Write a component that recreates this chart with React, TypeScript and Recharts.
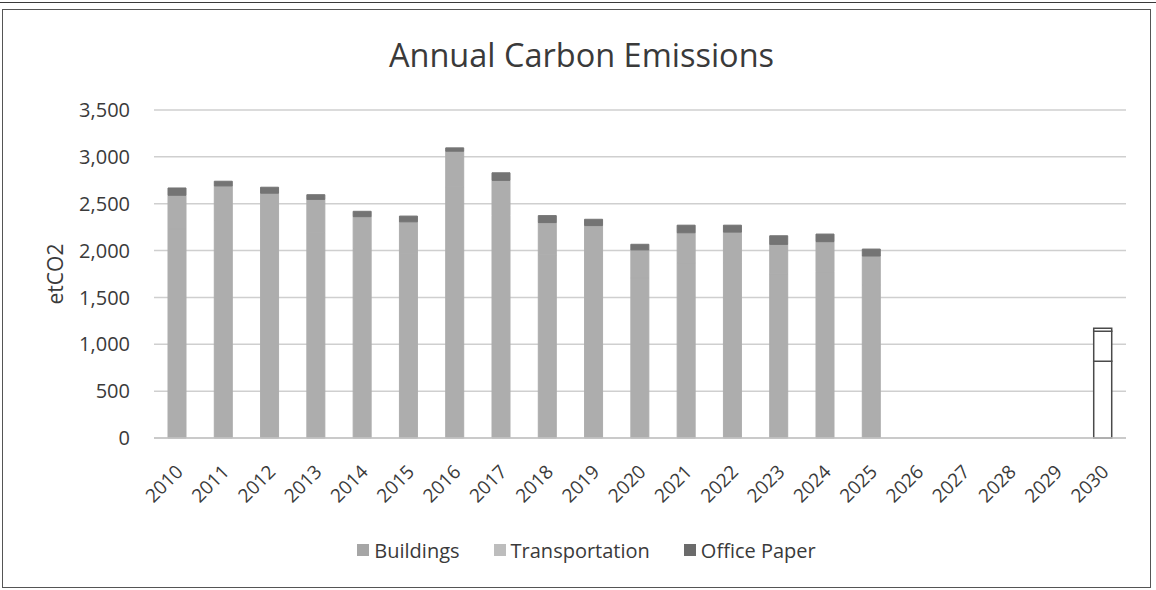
import React from 'react';
import { BarChart, Bar, XAxis, YAxis, CartesianGrid, Legend, Cell, Label } from 'recharts';

const years = ['2010','2011','2012','2013','2014','2015','2016','2017','2018','2019','2020','2021','2022','2023','2024','2025','2026','2027','2028','2029','2030'];
const buildings = [2230, 2320, 2247, 2191, 2022, 1972, 2680, 2374, 1954, 1927, 1707, 1870, 1872, 1751, 1775, 1632, null, null, null, null, 820];
const transportation = [360, 370, 365, 355, 340, 335, 380, 375, 345, 340, 300, 320, 325, 315, 320, 310, null, null, null, null, 320];
const officePaper = [78, 50, 64, 50, 57, 61, 36, 81, 74, 67, 60, 81, 74, 92, 81, 74, null, null, null, null, 30];
const yTicks = [0, 500, 1000, 1500, 2000, 2500, 3000, 3500];
const targetYear = '2030';

const seriesKeys = ['buildings', 'transportation', 'officePaper'];
const seriesNames = ['Buildings', 'Transportation', 'Office Paper'];
const legendColors = ['#a6a6a6', '#bdbdbd', '#6b6b6b'];
const barColors = ['#adadad', '#adadad', '#747474'];

const data = years.map((y, i) => ({
  year: y,
  buildings: buildings[i],
  transportation: transportation[i],
  officePaper: officePaper[i],
}));

const FONT = '"Open Sans", sans-serif';
const TEXT = '#3a3a3a';

const XTick = (props: any) => {
  const { x, y, payload } = props;
  const ax = x + 7;
  const ay = y + 35;
  return (
    <text x={ax} y={ay} textAnchor="end" fill={TEXT} fontSize={19} fontFamily={FONT}
      transform={`rotate(-45, ${ax}, ${ay})`}>
      {payload.value}
    </text>
  );
};

const renderLegend = () => (
  <div style={{ display: 'flex', justifyContent: 'center', alignItems: 'center', height: 28, paddingLeft: 20, fontFamily: FONT, fontSize: 20, color: TEXT }}>
    {seriesNames.map((n, i) => (
      <div key={n} style={{ display: 'flex', alignItems: 'center', marginRight: i < seriesNames.length - 1 ? 34 : 0 }}>
        <div style={{ width: 12, height: 12, background: legendColors[i], marginRight: 5 }} />
        <span>{n}</span>
      </div>
    ))}
  </div>
);

const renderYLabel = (props: any) => {
  const vb = props.viewBox || {};
  const cy = (vb.y || 0) + (vb.height || 0) / 2;
  return (
    <text x={60} y={cy} textAnchor="middle" fill={TEXT} fontSize={21} fontFamily={FONT}
      transform={`rotate(-90, 60, ${cy})`}>
      etCO2
    </text>
  );
};

const cellFor = (d: any, key: string, i: number) => {
  if (d.year === targetYear) {
    return <Cell key={key + i} fill="#ffffff" stroke="#4a4a4a" strokeWidth={1.5} />;
  }
  const c = barColors[seriesKeys.indexOf(key)];
  return <Cell key={key + i} fill={c} stroke={c} strokeWidth={1} />;
};

export default function App() {
  return (
    <div style={{ position: 'absolute', left: 0, top: 0, width: 1156, height: 590, background: '#ffffff' }}>
      <div style={{ position: 'absolute', left: 0, top: 2, width: 1156, height: 0, borderTop: '1.5px solid #3a3a3a' }} />
      <div style={{ position: 'absolute', left: 2, top: 9, width: 1147, height: 577, border: '1.5px solid #555555', background: '#ffffff' }}>
        <div style={{ position: 'absolute', left: 0, top: 22, width: 1147, textAlign: 'center', paddingLeft: 10, boxSizing: 'border-box', fontFamily: FONT, fontSize: 32.5, color: TEXT, lineHeight: 'normal' }}>
          Annual Carbon Emissions
        </div>
        <BarChart width={1147} height={577} data={data} margin={{ top: 100, right: 24, left: 0, bottom: 23 }} barSize={18}>
          <CartesianGrid vertical={false} stroke="#cfcfcf" strokeWidth={1.5} />
          <XAxis dataKey="year" interval={0} height={98} tickLine={false} tickSize={0} tickMargin={0}
            axisLine={{ stroke: '#c4c4c4', strokeWidth: 1.5 }} tick={<XTick />} />
          <YAxis width={151} domain={[0, 3500]} ticks={yTicks} axisLine={false} tickLine={false}
            tickSize={16} tickMargin={8}
            tick={{ fill: TEXT, fontSize: 20, fontFamily: FONT }}
            tickFormatter={(v: number) => v.toLocaleString('en-US')}>
            <Label content={renderYLabel} />
          </YAxis>
          <Legend verticalAlign="bottom" content={renderLegend} wrapperStyle={{ left: 0, width: 1147 }} />
          <Bar dataKey="buildings" stackId="a" name="Buildings" isAnimationActive={false}>
            {data.map((d, i) => cellFor(d, 'buildings', i))}
          </Bar>
          <Bar dataKey="transportation" stackId="a" name="Transportation" isAnimationActive={false}>
            {data.map((d, i) => cellFor(d, 'transportation', i))}
          </Bar>
          <Bar dataKey="officePaper" stackId="a" name="Office Paper" isAnimationActive={false}>
            {data.map((d, i) => cellFor(d, 'officePaper', i))}
          </Bar>
        </BarChart>
      </div>
    </div>
  );
}
